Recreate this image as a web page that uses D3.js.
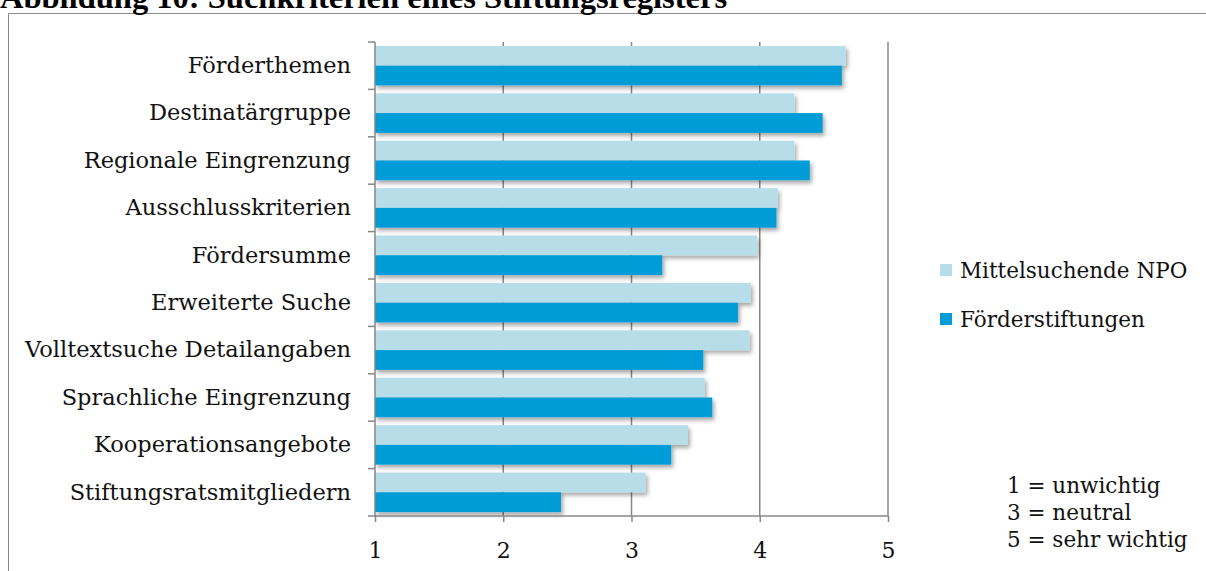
<!DOCTYPE html>
<html><head><meta charset="utf-8">
<script src="https://cdn.jsdelivr.net/npm/d3@7"></script>
<style>body{margin:0;background:#fff}svg{display:block}</style>
</head><body>
<script>
const categories = ["Förderthemen","Destinatärgruppe","Regionale Eingrenzung","Ausschlusskriterien","Fördersumme","Erweiterte Suche","Volltextsuche Detailangaben","Sprachliche Eingrenzung","Kooperationsangebote","Stiftungsratsmitgliedern"];
const seriesNames = ["Mittelsuchende NPO","Förderstiftungen"];
const npoValues = [4.67,4.27,4.27,4.14,3.98,3.93,3.92,3.57,3.44,3.11];
const stiftValues = [4.64,4.49,4.39,4.13,3.24,3.83,3.56,3.63,3.31,2.45];
const xTicks = [1,2,3,4,5];
const notes = ["1 = unwichtig","3 = neutral","5 = sehr wichtig"];
const title = "Abbildung 10: Suchkriterien eines Stiftungsregisters";

const W=1206,H=571;
const colors=["#b7dde8","#009cd8"];
const grid="#878787";
const labelFont="'DejaVu Serif', serif";
const fs=21.5;
const svg=d3.select("body").append("svg").attr("width",W).attr("height",H);
const defs=svg.append("defs");
const f=defs.append("filter").attr("id","sh").attr("x","-5%").attr("y","-30%").attr("width","115%").attr("height","190%");
f.append("feDropShadow").attr("dx",2).attr("dy",3).attr("stdDeviation",2).attr("flood-color","#000").attr("flood-opacity",0.35);

// frame
svg.append("path").attr("d","M8.5,571 L8.5,13.5 L1206,13.5").attr("fill","none").attr("stroke","#8a8a8a").attr("stroke-width",1);
// title
svg.append("text").attr("x",0).attr("y",8).attr("font-family","'Liberation Serif', serif").attr("font-weight","bold").attr("font-size",32.5).attr("fill","#000").text(title);

const x=d3.scaleLinear().domain([1,5]).range([375,888]);
const y=d3.scaleBand().domain(categories).range([42,516]).paddingInner(0).paddingOuter(0);
const yInner=d3.scaleBand().domain(seriesNames).range([0,y.bandwidth()]).paddingInner(0).paddingOuter(0.2);

// gridlines
svg.append("g").selectAll("line").data(xTicks.slice(1)).join("line")
 .attr("x1",d=>x(d)).attr("x2",d=>x(d)).attr("y1",42).attr("y2",516)
 .attr("stroke",grid).attr("stroke-width",1.5);

// bars
const g=svg.append("g").attr("filter","url(#sh)");
const data=categories.map((c,i)=>({c,vals:[npoValues[i],stiftValues[i]]}));
data.forEach(d=>{
  d.vals.forEach((v,j)=>{
    g.append("rect").attr("x",x(1)).attr("y",y(d.c)+yInner(seriesNames[j]))
     .attr("width",x(v)-x(1)).attr("height",yInner.bandwidth()).attr("fill",colors[j]);
  });
});

// y axis
const yAxis=d3.axisLeft(y).tickSize(0).tickPadding(24);
const ya=svg.append("g").attr("transform","translate(375,0)").call(yAxis);
ya.select(".domain").remove();
ya.selectAll("text").attr("font-family",labelFont).attr("font-size",22.5).attr("fill","#111");
svg.append("line").attr("x1",375).attr("x2",375).attr("y1",42).attr("y2",517).attr("stroke",grid).attr("stroke-width",1.5);
const bounds=categories.map(c=>y(c)).concat([y.range()[1]]);
svg.append("g").selectAll("line").data(bounds).join("line")
 .attr("x1",368).attr("x2",375).attr("y1",d=>d).attr("y2",d=>d).attr("stroke",grid).attr("stroke-width",1.5);

// x axis
const xAxis=d3.axisBottom(x).tickValues(xTicks).tickFormat(d3.format("d")).tickSize(6).tickPadding(20);
const xa=svg.append("g").attr("transform","translate(0,516)").call(xAxis);
xa.select(".domain").attr("stroke",grid).attr("stroke-width",1.5).attr("d","M375,0H888");
xa.selectAll(".tick line").attr("stroke",grid).attr("stroke-width",1.5);
xa.selectAll("text").attr("font-family",labelFont).attr("font-size",22).attr("fill","#111");

// legend
const lg=svg.append("g");
seriesNames.forEach((s,i)=>{
  const yy=264+i*49;
  lg.append("rect").attr("x",940).attr("y",yy).attr("width",12).attr("height",12).attr("fill",colors[i]);
  lg.append("text").attr("x",960).attr("y",yy+14).attr("font-family",labelFont).attr("font-size",fs).attr("fill","#111").text(s);
});
// notes
notes.forEach((n,i)=>{
  svg.append("text").attr("x",1007).attr("y",493+i*27).attr("font-family",labelFont).attr("font-size",fs).attr("fill","#111").text(n);
});
</script>
</body></html>
